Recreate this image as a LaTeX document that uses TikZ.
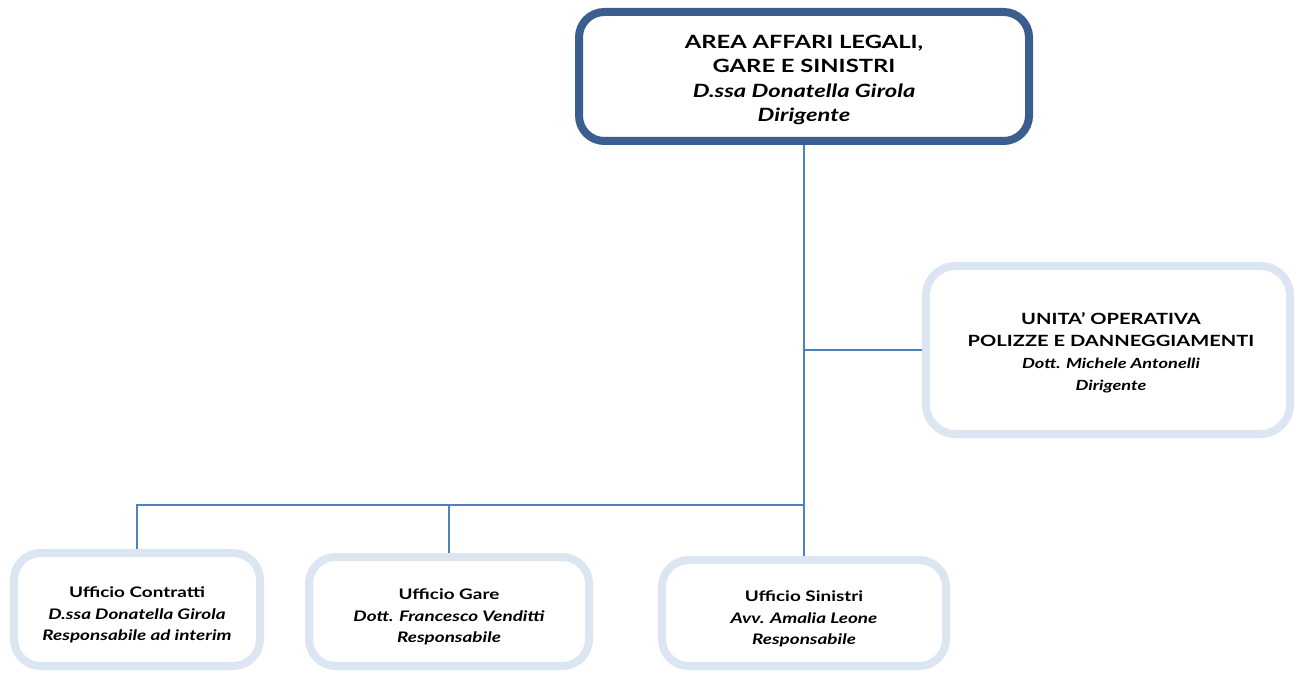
\documentclass[tikz,border=0pt]{standalone}
\usepackage{fontspec}
\setmainfont{Lato}[FakeStretch=1.3]
\newcommand{\smallsz}{\fontsize{10.5}{16}\selectfont}
\begin{document}
\begin{tikzpicture}[x=0.75pt,y=-0.75pt,
  conn/.style={draw=lineblue,line width=1.1pt},
  topbox/.style={draw=darkblue,line width=6pt,rounded corners=19pt,fill=white,align=center,inner sep=0pt},
  subbox/.style={draw=lightblue,line width=6pt,rounded corners=20pt,fill=white,align=center,inner sep=0pt},
  bigt/.style={font=\fontsize{13.7}{18.2}\selectfont},
  midt/.style={font=\fontsize{11.6}{16.5}\selectfont},
  smt/.style={font=\fontsize{10.9}{16}\selectfont}]
\definecolor{darkblue}{HTML}{3A5F8E}
\definecolor{lightblue}{HTML}{DCE6F2}
\definecolor{lineblue}{HTML}{4F81BD}
\useasboundingbox (0,0) rectangle (1294,673);
\begin{scope}
\clip (0,0) rectangle (1294,673);
\node[topbox,minimum width=337.5pt,minimum height=96.75pt] (top) at (804,76.5) {};
\node[subbox,rounded corners=22pt,minimum width=273pt,minimum height=126pt] (uo) at (1108,350) {};
\node[subbox,minimum width=184.5pt,minimum height=84.75pt] (b1) at (137,609.5) {};
\node[subbox,minimum width=210pt,minimum height=81.75pt] (b2) at (449,611.5) {};
\node[subbox,minimum width=213pt,minimum height=79.5pt] (b3) at (804,613) {};
\end{scope}
\coordinate (bar) at (804,505);
\draw[conn] (top.south) -- (b3.north);
\draw[conn] (top.south |- uo.west) -- (uo.west);
\draw[conn] (b1.north) |- (bar);
\draw[conn] (b2.north) -- (b2.north |- bar);
\node[bigt,align=center] (toptext) at (804,80) {\textbf{AREA AFFARI LEGALI,}\\\textbf{GARE E SINISTRI}\\\textbf{\textit{D.ssa Donatella Girola}}\\\textbf{\textit{Dirigente}}};
\node[midt,align=center] (uotext) at (1111,353) {\textbf{UNITA’ OPERATIVA}\\\textbf{POLIZZE E DANNEGGIAMENTI}\\{\smallsz\textbf{\textit{Dott. Michele Antonelli}}}\\{\smallsz\textbf{\textit{Dirigente}}}};
\node[smt,align=center] (t1) at (137,615) {\textbf{Ufficio Contratti}\\\textbf{\textit{D.ssa Donatella Girola}}\\\textbf{\textit{Responsabile ad interim}}};
\node[smt,align=center] (t2) at (449,617) {\textbf{Ufficio Gare}\\\textbf{\textit{Dott. Francesco Venditti}}\\\textbf{\textit{Responsabile}}};
\node[smt,align=center] (t3) at (804,619) {\textbf{Ufficio Sinistri}\\\textbf{\textit{Avv. Amalia Leone}}\\\textbf{\textit{Responsabile}}};
\end{tikzpicture}
\end{document}
